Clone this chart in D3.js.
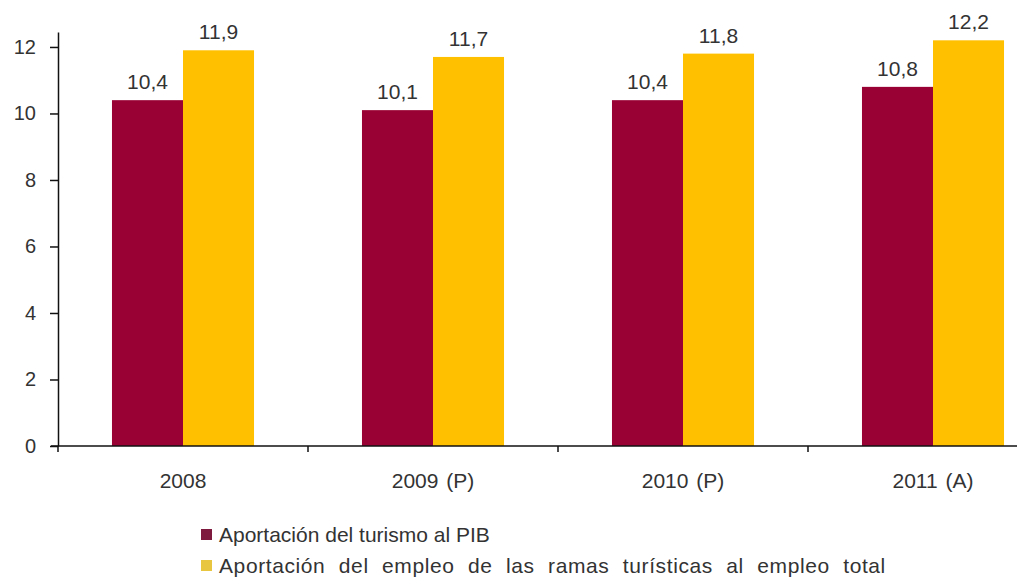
<!DOCTYPE html>
<html><head><meta charset="utf-8">
<script src="https://cdn.jsdelivr.net/npm/d3@7"></script>
<style>body{margin:0;background:#fff;} svg{display:block;font-family:"Liberation Sans",Arial,sans-serif;}</style>
</head><body>
<svg id="c" width="1017" height="581"></svg>
<script>
const categories = ["2008", "2009 (P)", "2010 (P)", "2011 (A)"];
const seriesNames = ["Aportación del turismo al PIB", "Aportación del empleo de las ramas turísticas al empleo total"];
const pib = [10.4, 10.1, 10.4, 10.8];
const empleo = [11.9, 11.7, 11.8, 12.2];
const yTicks = [0, 2, 4, 6, 8, 10, 12];
const colors = ["#990033", "#ffc000"];

const svg = d3.select("#c");
const y = d3.scaleLinear().domain([0, 12.45]).range([446, 32]);
const x0 = d3.scaleBand().domain(categories).range([58, 1058]).padding(0);
const x1 = d3.scaleBand().domain([0, 1]).range([0, x0.bandwidth()]).paddingInner(0).paddingOuter(0.76);
const fmt = v => d3.format(".1f")(v).replace(".", ",");
const txt = "#333";

// bars
const series = [pib, empleo];
series.forEach((vals, si) => {
  svg.append("g").selectAll("rect").data(vals).join("rect")
    .attr("x", (d, i) => x0(categories[i]) + x1(si))
    .attr("width", x1.bandwidth())
    .attr("y", d => y(d))
    .attr("height", d => y(0) - y(d))
    .attr("fill", colors[si]);
  svg.append("g").selectAll("text").data(vals).join("text")
    .attr("x", (d, i) => x0(categories[i]) + x1(si) + x1.bandwidth() / 2)
    .attr("y", d => y(d) - 11)
    .attr("text-anchor", "middle")
    .attr("font-size", 21)
    .attr("fill", txt)
    .text(d => fmt(d));
});

// y axis
const yAxis = svg.append("g").attr("transform", "translate(58,0)")
  .call(d3.axisLeft(y).tickValues(yTicks).tickSize(8).tickPadding(14).tickSizeOuter(0));
yAxis.select(".domain").attr("stroke", "#111").attr("stroke-width", 1.5);
yAxis.selectAll(".tick line").attr("stroke", "#111").attr("stroke-width", 1.5);
yAxis.selectAll(".tick text").attr("font-size", 20).attr("fill", txt).attr("font-family", null);

// x axis
const xAxis = svg.append("g").attr("transform", `translate(0,${y(0)})`)
  .call(d3.axisBottom(x0).tickSize(0).tickPadding(27).tickSizeOuter(0));
xAxis.select(".domain").remove();
xAxis.selectAll(".tick text").attr("font-size", 21).attr("fill", txt).attr("font-family", null)
  .attr("word-spacing", "2px");
svg.append("line").attr("x1", 51).attr("x2", x0.range()[1]).attr("y1", y(0)).attr("y2", y(0))
  .attr("stroke", "#111").attr("stroke-width", 1.5);
svg.append("g").selectAll("line").data(categories).join("line")
  .attr("x1", d => x0(d)).attr("x2", d => x0(d))
  .attr("y1", y(0)).attr("y2", y(0) + 6)
  .attr("stroke", "#111").attr("stroke-width", 1.5);

// legend
const legColors = ["#7d1a3e", "#e8c640"];
const leg = svg.append("g").selectAll("g").data(seriesNames).join("g")
  .attr("transform", (d, i) => `translate(201,${535 + i * 31})`);
leg.append("rect").attr("x", 0).attr("y", -6).attr("width", 11).attr("height", 11)
  .attr("fill", (d, i) => legColors[i]);
leg.append("text").attr("x", 18).attr("y", 0).attr("dy", "0.35em")
  .attr("font-size", 21).attr("fill", txt).text(d => d)
  .each(function(d, i) {
    if (i === 1) d3.select(this).attr("word-spacing", "7px").attr("letter-spacing", "0.6px");
  });
</script>
</body></html>
